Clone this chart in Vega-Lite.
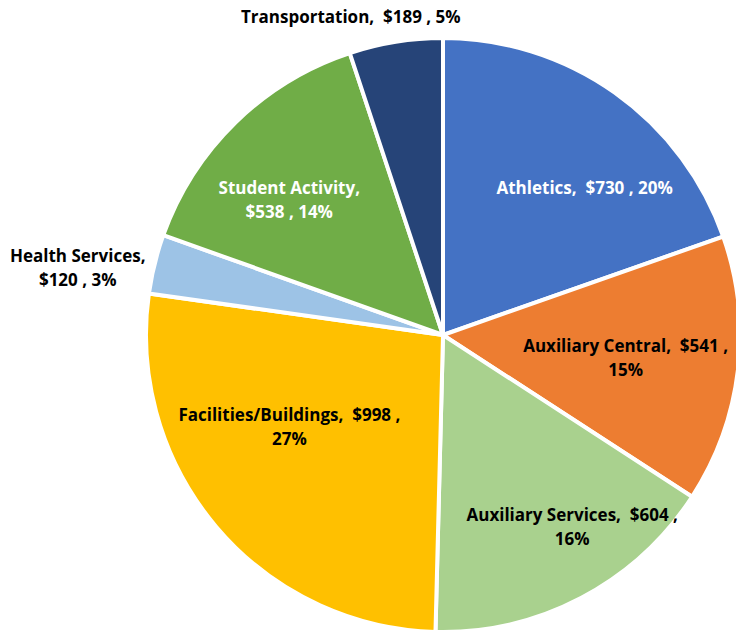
{
  "$schema": "https://vega.github.io/schema/vega-lite/v6.json",
  "width": 586,
  "height": 596,
  "autosize": "none",
  "padding": {"left": 150, "top": 37, "right": 0, "bottom": 0},
  "background": "white",
  "view": {"stroke": null},
  "config": {"text": {"font": "Open Sans", "fontWeight": "bold", "fontSize": 17, "lineHeight": 24, "baseline": "middle"}},
  "data": {"values": [
    {"idx": 1, "name": "Athletics", "value": 730, "label": ["Athletics,\u00a0 $730 , 20%"]},
    {"idx": 2, "name": "Auxiliary Central", "value": 541, "label": ["Auxiliary Central,\u00a0 $541 ,", "15%"]},
    {"idx": 3, "name": "Auxiliary Services", "value": 604, "label": ["Auxiliary Services,\u00a0 $604 ,", "16%"]},
    {"idx": 4, "name": "Facilities/Buildings", "value": 998, "label": ["Facilities/Buildings,\u00a0 $998 ,", "27%"]},
    {"idx": 5, "name": "Health Services", "value": 120, "label": ["Health Services,", "$120 , 3%"]},
    {"idx": 6, "name": "Student Activity", "value": 538, "label": ["Student Activity,", "$538 , 14%"]},
    {"idx": 7, "name": "Transportation", "value": 189, "label": ["Transportation,\u00a0 $189 , 5%"]}
  ]},
  "encoding": {
    "theta": {"field": "value", "type": "quantitative", "stack": true},
    "order": {"field": "idx", "type": "quantitative"}
  },
  "layer": [
    {
      "mark": {"type": "arc", "radius": 297, "stroke": "white", "strokeWidth": 4},
      "encoding": {
        "color": {
          "field": "name", "type": "nominal", "legend": null,
          "scale": {
            "domain": ["Athletics", "Auxiliary Central", "Auxiliary Services", "Facilities/Buildings", "Health Services", "Student Activity", "Transportation"],
            "range": ["#4472C4", "#ED7D31", "#A9D18E", "#FFC000", "#9DC3E6", "#70AD47", "#264478"]
          }
        }
      }
    },
    {
      "mark": {"type": "text", "radius": 200, "dx": 26, "dy": 17, "color": "white"},
      "encoding": {"text": {"condition": {"test": "datum.name === 'Athletics'", "field": "label"}, "value": ""}}
    },
    {
      "mark": {"type": "text", "radius": 200, "dx": -16, "dy": -12, "color": "black"},
      "encoding": {"text": {"condition": {"test": "datum.name === 'Auxiliary Central'", "field": "label"}, "value": ""}}
    },
    {
      "mark": {"type": "text", "radius": 200, "dx": 36, "dy": 4, "color": "black"},
      "encoding": {"text": {"condition": {"test": "datum.name === 'Auxiliary Services'", "field": "label"}, "value": ""}}
    },
    {
      "mark": {"type": "text", "radius": 200, "dx": -1, "dy": -48, "color": "black"},
      "encoding": {"text": {"condition": {"test": "datum.name === 'Facilities/Buildings'", "field": "label"}, "value": ""}}
    },
    {
      "mark": {"type": "text", "radius": 335, "dx": -40, "dy": 2, "color": "black"},
      "encoding": {"text": {"condition": {"test": "datum.name === 'Health Services'", "field": "label"}, "value": ""}}
    },
    {
      "mark": {"type": "text", "radius": 200, "dx": -14, "dy": -3, "color": "white"},
      "encoding": {"text": {"condition": {"test": "datum.name === 'Student Activity'", "field": "label"}, "value": ""}}
    },
    {
      "mark": {"type": "text", "radius": 335, "dx": -39, "dy": 14, "color": "black"},
      "encoding": {"text": {"condition": {"test": "datum.name === 'Transportation'", "field": "label"}, "value": ""}}
    }
  ]
}
